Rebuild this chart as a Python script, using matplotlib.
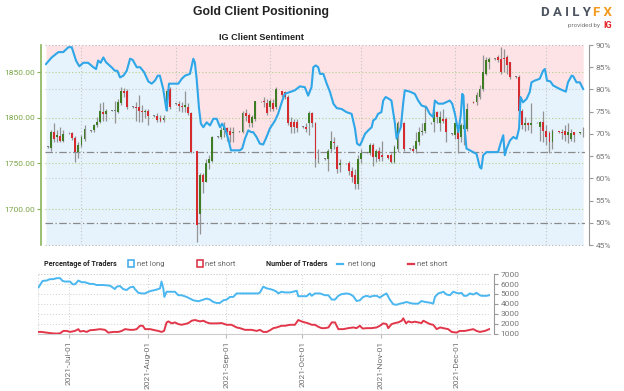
import matplotlib
matplotlib.use("Agg")
import matplotlib.pyplot as plt
import matplotlib.dates as mdates
from matplotlib.patches import Rectangle
from matplotlib.lines import Line2D
import numpy as np
import pandas as pd

# ---- data -------------------------------------------------------------
base = pd.Timestamp("2021-06-19")

# daily candles, Sunday..Friday sessions, 2021-06-20 .. 2021-12-14
opens = [1768, 1767, 1784, 1779, 1780, 1775,
         1783, 1783, 1778, 1763, 1770, 1777,
         1786, 1787, 1792, 1796, 1806, 1804,
         1808, 1808, 1806, 1816, 1830, 1829,
         1812, 1812, 1812, 1808, 1806, 1808,
         1802, 1802, 1800, 1798, 1810, 1832,
         1815, 1815, 1813, 1812, 1812, 1805,
         1764, 1695, 1737, 1730, 1750, 1753,
         1779, 1779, 1787, 1789, 1786, 1783,
         1785, 1785, 1805, 1803, 1794, 1799,
         1818, 1818, 1816, 1812, 1816, 1812,
         1829, 1828, 1823, 1795, 1795, 1795,
         1790, 1790, 1794, 1805, 1794, 1755,
         1755, 1755, 1766, 1774, 1768, 1748,
         1750, 1750, 1742, 1737, 1728, 1755,
         1762, 1761, 1770, 1757, 1764, 1759,
         1759, 1759, 1752, 1766, 1795, 1794,
         1766, 1766, 1766, 1774, 1785, 1786,
         1794, 1795, 1806, 1794, 1799, 1799,
         1782, 1781, 1786, 1779, 1788, 1788,
         1817, 1817, 1823, 1832, 1848, 1861,
         1865, 1867, 1865, 1866, 1867, 1861,
         1845, 1845, 1808, 1792, 1794, 1792,
         1795, 1790, 1795, 1786, 1783, 1774,
         1786, 1785, 1786, 1781, 1777, 1784,
         1783, 1784, 1786]
highs = [1769, 1787, 1794, 1787, 1790, 1787,
         1784, 1785, 1780, 1774, 1781, 1792,
         1787, 1793, 1801, 1816, 1817, 1810,
         1809, 1819, 1821, 1834, 1833, 1832,
         1813, 1817, 1825, 1814, 1810, 1810,
         1803, 1805, 1803, 1803, 1832, 1834,
         1816, 1819, 1817, 1830, 1816, 1806,
         1764, 1739, 1739, 1755, 1759, 1780,
         1780, 1790, 1795, 1790, 1790, 1790,
         1786, 1808, 1810, 1805, 1803, 1819,
         1819, 1823, 1821, 1821, 1821, 1834,
         1830, 1830, 1825, 1801, 1799, 1799,
         1791, 1794, 1808, 1806, 1796, 1766,
         1756, 1766, 1786, 1779, 1770, 1755,
         1751, 1753, 1746, 1744, 1759, 1766,
         1763, 1772, 1772, 1766, 1768, 1775,
         1759, 1761, 1770, 1797, 1799, 1796,
         1767, 1770, 1785, 1790, 1794, 1814,
         1795, 1810, 1808, 1808, 1810, 1801,
         1783, 1796, 1790, 1794, 1795, 1816,
         1819, 1828, 1836, 1869, 1867, 1867,
         1866, 1869, 1878, 1876, 1869, 1861,
         1846, 1847, 1810, 1801, 1796, 1816,
         1796, 1797, 1808, 1792, 1786, 1788,
         1786, 1788, 1792, 1794, 1788, 1785,
         1784, 1790, 1790]
lows = [1767, 1764, 1774, 1774, 1774, 1774,
        1782, 1776, 1752, 1756, 1768, 1775,
        1785, 1785, 1790, 1794, 1797, 1797,
        1807, 1794, 1805, 1814, 1823, 1810,
        1811, 1797, 1795, 1795, 1800, 1792,
        1801, 1796, 1795, 1795, 1808, 1810,
        1814, 1808, 1806, 1806, 1803, 1761,
        1664, 1673, 1718, 1730, 1744, 1752,
        1778, 1777, 1779, 1775, 1774, 1774,
        1784, 1783, 1797, 1790, 1790, 1797,
        1817, 1812, 1803, 1808, 1808, 1810,
        1823, 1821, 1792, 1783, 1783, 1785,
        1789, 1784, 1781, 1790, 1746, 1750,
        1754, 1742, 1763, 1766, 1739, 1741,
        1749, 1737, 1730, 1722, 1722, 1750,
        1761, 1759, 1747, 1752, 1753, 1753,
        1755, 1751, 1751, 1763, 1792, 1764,
        1765, 1763, 1762, 1770, 1781, 1783,
        1793, 1785, 1794, 1786, 1794, 1774,
        1781, 1777, 1761, 1774, 1770, 1786,
        1816, 1814, 1821, 1830, 1847, 1854,
        1864, 1861, 1848, 1850, 1848, 1843,
        1844, 1806, 1788, 1786, 1787, 1783,
        1794, 1775, 1773, 1770, 1762, 1766,
        1783, 1777, 1775, 1772, 1775, 1774,
        1782, 1779, 1766]
closes = [1768, 1785, 1777, 1781, 1775, 1782,
          1783, 1778, 1763, 1770, 1779, 1788,
          1786, 1792, 1796, 1808, 1804, 1808,
          1808, 1808, 1817, 1829, 1827, 1812,
          1812, 1811, 1808, 1806, 1808, 1802,
          1802, 1798, 1797, 1800, 1830, 1812,
          1815, 1813, 1812, 1814, 1805, 1763,
          1682, 1737, 1730, 1750, 1755, 1779,
          1779, 1787, 1790, 1785, 1781, 1785,
          1785, 1805, 1802, 1794, 1801, 1818,
          1818, 1817, 1805, 1818, 1810, 1832,
          1825, 1823, 1794, 1790, 1790, 1789,
          1790, 1788, 1805, 1794, 1755, 1755,
          1755, 1764, 1775, 1772, 1744, 1750,
          1750, 1742, 1735, 1728, 1755, 1761,
          1762, 1770, 1757, 1764, 1755, 1757,
          1756, 1752, 1768, 1794, 1796, 1766,
          1766, 1764, 1775, 1785, 1786, 1794,
          1794, 1806, 1801, 1801, 1797, 1785,
          1782, 1794, 1777, 1792, 1792, 1810,
          1816, 1825, 1832, 1850, 1863, 1865,
          1865, 1863, 1850, 1865, 1858, 1845,
          1845, 1808, 1792, 1794, 1792, 1794,
          1795, 1795, 1786, 1779, 1774, 1786,
          1784, 1783, 1781, 1785, 1783, 1781,
          1784, 1784, 1774]

# IG client sentiment, % of traders net long (days after 2021-06-19)
sent_day = [0.3, 2.2, 4.4, 6.0, 7.7, 8.8, 10.2, 11.3, 12.6, 14.2, 15.9, 16.8,
            17.5, 18.3, 19.2, 20.1, 21.9, 23.0, 23.8, 24.7, 25.8, 26.9, 28.0,
            28.8, 30.2, 31.3, 32.6, 34.0, 35.1, 36.2, 37.1, 37.8, 38.9, 40.0,
            40.8, 43.9, 45.0, 46.1, 47.7, 48.8, 49.3, 49.9, 50.7, 51.3, 52.1,
            53.2, 54.3, 55.4, 56.5, 57.6, 58.3, 59.2, 60.3, 61.2, 64.1, 64.9,
            65.8, 66.9, 67.8, 68.5, 69.6, 70.7, 71.8, 72.9, 74.0, 75.7, 76.7,
            77.9, 78.9, 80.6, 82.2, 83.9, 85.5, 86.6, 87.7, 88.3, 89.1, 89.9,
            90.5, 91.6, 92.7, 93.8, 94.9, 96.0, 97.6, 99.2, 100.9, 102.0,
            102.7, 103.6, 104.2, 105.3, 106.4, 107.5, 108.0, 108.8, 109.6,
            110.7, 111.3, 112.1, 112.9, 114.0, 115.1, 115.7, 116.2, 117.1,
            117.9, 118.4, 120.1, 121.7, 122.8, 123.9, 125.5, 126.6, 127.7,
            128.3, 129.4, 131.0, 133.2, 134.0, 134.9, 136.0, 136.8, 137.3,
            137.7, 138.2, 138.7, 139.8, 142.0, 143.1, 143.6, 144.2, 145.3,
            149.1, 149.9, 150.8, 151.3, 151.9, 153.0, 154.1, 155.2, 156.0,
            156.5, 157.3, 158.5, 159.5, 160.1, 161.2, 162.8, 163.9, 164.5,
            165.2, 166.3, 167.2, 169.4, 171.4, 172.1, 173.3, 173.8, 174.9,
            176.0, 177.1]
sent_long = [85.7, 87.2, 88.4, 88.4, 89.5, 89.5, 86.5, 85.2, 86.0, 86.0, 85.0,
             84.6, 86.5, 86.0, 87.2, 86.1, 85.0, 84.2, 84.2, 82.7, 83.1, 84.2,
             86.9, 86.7, 85.0, 85.0, 83.9, 81.8, 81.3, 82.0, 83.1, 83.1, 80.1,
             75.3, 81.3, 81.3, 82.4, 83.1, 83.5, 86.9, 86.1, 82.4, 75.6, 72.3,
             71.5, 72.6, 71.9, 73.4, 73.4, 71.5, 72.3, 71.2, 68.9, 66.3, 66.3,
             66.7, 68.9, 70.8, 70.4, 70.4, 69.3, 67.8, 67.6, 69.3, 71.2, 73.0,
             74.5, 77.1, 79.0, 79.4, 79.8, 80.7, 80.5, 78.6, 80.5, 85.0, 85.4,
             85.0, 83.5, 83.5, 81.3, 79.4, 76.8, 75.8, 75.6, 74.9, 74.5, 71.2,
             67.8, 67.4, 68.2, 70.0, 70.8, 71.5, 73.0, 73.4, 74.5, 74.9, 77.5,
             78.3, 78.0, 77.5, 72.6, 68.9, 70.0, 71.5, 77.1, 79.8, 79.5, 79.0,
             77.5, 76.4, 76.0, 74.5, 73.8, 77.5, 76.8, 76.8, 77.5, 76.8, 74.5,
             70.4, 74.1, 79.0, 78.6, 70.4, 66.7, 66.3, 65.5, 62.5, 62.2, 65.2,
             65.9, 65.9, 67.8, 69.7, 65.2, 66.7, 68.5, 69.3, 68.9, 71.2, 78.3,
             77.1, 77.9, 79.4, 81.6, 82.0, 82.4, 84.2, 84.6, 82.0, 81.8, 80.9,
             80.1, 79.5, 81.6, 83.1, 83.0, 81.6, 81.6, 80.1]

# number of traders
long_day = [0, 0.6, 1.6, 3.2, 4.5, 5.8, 7.2, 8.5, 9.5, 10.4, 12.4, 13.5, 14.4,
            15.7, 17.0, 18.3, 20.3, 21.6, 22.9, 24.2, 25.5, 28.2, 28.8, 30.1,
            30.8, 32.1, 33.4, 34.7, 36.1, 37.4, 38.0, 39.4, 40.7, 42.0, 43.3,
            44.6, 45.9, 47.2, 47.9, 48.5, 49.2, 49.6, 50.5, 51.8, 53.8, 55.1,
            56.4, 58.4, 59.7, 61.0, 63.0, 65.0, 66.3, 67.6, 68.9, 70.2, 71.5,
            72.9, 74.2, 75.5, 76.8, 78.1, 79.4, 82.1, 84.7, 86.7, 87.3, 88.6,
            90.0, 91.3, 92.6, 93.9, 94.5, 95.8, 97.2, 99.1, 100.4, 101.8,
            102.4, 103.7, 105.7, 107.0, 107.7, 109.0, 111.0, 112.9, 114.3,
            115.6, 116.9, 118.2, 119.5, 121.5, 122.8, 124.1, 125.4, 126.7,
            128.0, 129.4, 130.7, 132.0, 133.3, 134.6, 135.9, 137.2, 138.5,
            139.9, 141.2, 142.5, 143.8, 145.1, 146.4, 147.7, 149.7, 151.0,
            152.4, 154.3, 155.6, 156.3, 157.6, 158.9, 159.6, 160.9, 162.2,
            163.5, 164.8, 165.9, 166.8, 167.7, 168.8, 170.1, 171.4, 172.7,
            174.0, 174.7, 176.7, 177.7]
long_count = [5660, 5900, 6310, 6350, 6490, 6490, 6590, 6590, 6310, 6250, 6250,
              5970, 5970, 6350, 6180, 6180, 6010, 6010, 5900, 5900, 5900, 5830,
              5730, 5490, 5730, 5800, 5490, 5390, 5660, 5730, 5490, 5110, 5050,
              5050, 5220, 5320, 5390, 5490, 5560, 6250, 5560, 4700, 5220, 5220,
              5220, 4870, 4870, 4700, 4530, 4360, 4260, 4430, 4530, 4430, 4190,
              4090, 4090, 4360, 4430, 4700, 4700, 5050, 5050, 5050, 5050, 5050,
              5150, 5730, 5560, 5490, 5390, 5220, 5050, 5220, 5150, 5150, 5220,
              5320, 4770, 4770, 4770, 5050, 4810, 5050, 5050, 4870, 4870, 4430,
              4430, 4810, 4980, 5050, 4980, 4770, 4290, 4360, 4700, 4810, 4700,
              4810, 4810, 4630, 4870, 5050, 4430, 3950, 3910, 4020, 4090, 4190,
              4090, 4020, 4020, 4290, 4190, 4120, 4020, 4700, 5050, 5150, 5220,
              4940, 4870, 5220, 5110, 5050, 5110, 4810, 4810, 5050, 4940, 5110,
              4870, 4810, 4810, 4870]
short_day = [0, 1.2, 3.2, 5.2, 7.2, 8.5, 9.8, 11.1, 12.4, 14.4, 15.7, 16.4,
             17.7, 19.0, 20.3, 22.3, 24.2, 26.2, 27.5, 29.5, 31.5, 32.8, 34.1,
             36.1, 37.4, 38.7, 40.0, 41.1, 42.0, 44.0, 45.9, 47.2, 48.5, 49.5,
             50.5, 51.2, 52.5, 53.8, 55.1, 56.4, 57.7, 59.1, 60.4, 61.7, 63.7,
             65.0, 66.3, 67.6, 70.2, 72.2, 74.2, 76.1, 78.1, 79.4, 81.4, 84.0,
             86.0, 87.3, 88.6, 90.0, 91.3, 92.6, 93.9, 95.8, 97.2, 99.1, 101.1,
             102.4, 103.7, 105.0, 106.4, 107.7, 109.0, 110.3, 111.6, 112.9,
             114.3, 115.6, 116.9, 118.2, 120.2, 122.1, 124.1, 125.4, 126.7,
             127.8, 129.4, 131.3, 133.3, 134.6, 135.9, 137.2, 137.9, 139.2,
             140.5, 141.8, 143.2, 143.8, 144.9, 145.8, 147.1, 148.4, 149.7,
             151.0, 151.7, 153.0, 154.3, 155.6, 157.0, 158.3, 159.6, 161.5,
             162.9, 164.8, 166.1, 168.1, 170.1, 171.4, 172.7, 174.0, 176.0,
             177.7]
short_count = [1170, 1170, 1100, 1030, 1000, 1030, 1270, 1270, 1170, 1270, 1450,
               1210, 1270, 1170, 1340, 1380, 1450, 1380, 1100, 1170, 1170, 1270,
               1450, 1380, 1380, 1450, 1790, 1790, 1450, 1450, 1340, 1270, 1170,
               1270, 2130, 2230, 2030, 2130, 1960, 1890, 1960, 2060, 2300, 2370,
               2230, 2300, 2130, 2030, 2030, 2060, 1890, 1890, 1620, 1550, 1380,
               1380, 1270, 1380, 1170, 1170, 1340, 1550, 1620, 1790, 1790, 1890,
               1890, 2370, 2230, 2130, 2030, 1890, 1890, 1690, 1550, 1550, 1620,
               2130, 2130, 1450, 1450, 1550, 1620, 1550, 1790, 1510, 1550, 1550,
               1620, 1790, 2030, 1960, 1550, 1960, 2060, 2130, 2300, 2540, 2030,
               2230, 2130, 2200, 2130, 2060, 2300, 2130, 1960, 1890, 1450, 1620,
               1550, 1450, 1170, 1100, 1270, 1270, 1380, 1450, 1270, 1170, 1270,
               1450]

month_ticks = ["2021-07-01", "2021-08-01", "2021-09-01", "2021-10-01",
               "2021-11-01", "2021-12-01"]

# ---- figure -------------------------------------------------------------
plt.rcParams["font.family"] = ["Roboto", "DejaVu Sans"]
fig = plt.figure(figsize=(6.24, 3.91), dpi=100)

bar_dates = pd.bdate_range("2021-06-20", "2021-12-14", freq="C",
                           weekmask="Sun Mon Tue Wed Thu Fri")
bx = mdates.date2num(bar_dates[:len(closes)])
o = np.array(opens, float)
h = np.array(highs, float)
lo = np.array(lows, float)
c = np.array(closes, float)

sx = mdates.date2num(base + pd.to_timedelta(sent_day, unit="D"))
lx = mdates.date2num(base + pd.to_timedelta(long_day, unit="D"))
shx = mdates.date2num(base + pd.to_timedelta(short_day, unit="D"))
mt = mdates.date2num(pd.to_datetime(month_ticks))
x0 = mdates.date2num(base)
xr = (x0, x0 + 177.7)

# top panel: percent axis (fills), price twin above it, line on top
ax_pct = fig.add_axes([45/624, 1-245/391, 540/624, 200/391])
ax_pr = ax_pct.twinx()
ax_line = ax_pr.twinx()

ax_pct.set_xlim(*xr)
ax_pct.set_ylim(45, 90)
ax_pct.fill_between(sx, sent_long, 90, color="#fde3e6", lw=0, zorder=0)
ax_pct.fill_between(sx, 45, sent_long, color="#e6f3fc", lw=0, zorder=0)
for v in (60, 80):
    ax_pct.axhline(v, color="#c9c9c9", lw=0.8, ls=(0, (1, 2)), zorder=1)
for v in (50, 66):
    ax_pct.axhline(v, color="#8a8a8a", lw=0.9, ls=(0, (6, 2, 1, 2)), zorder=1)
for v in (45, 90):
    ax_pct.axhline(v, color="#b8b8b8", lw=0.8, ls=(0, (1, 2)), zorder=1,
                   clip_on=False)
for m in mt:
    ax_pct.axvline(m, color="#c4c4c4", lw=0.8, ls=(0, (1, 2)), zorder=1)

ax_pct.yaxis.tick_right()
ax_pct.yaxis.set_label_position("right")
ax_pct.set_yticks(range(45, 91, 5))
ax_pct.set_yticklabels([f"{v}%" for v in range(45, 91, 5)])
ax_pct.tick_params(axis="y", colors="#999999", labelcolor="#777777",
                   labelsize=6, length=3, width=0.8, pad=1.5)
ax_pct.set_xticks([])
for s in ("top", "bottom", "left"):
    ax_pct.spines[s].set_visible(False)
ax_pct.spines["right"].set_visible(True)
ax_pct.spines["right"].set_color("#999999")
ax_pct.spines["right"].set_position(("outward", 3))

ax_pr.set_xlim(*xr)
ax_pr.set_ylim(1660.6, 1879.9)
ax_pr.yaxis.tick_left()
ax_pr.set_yticks([1700, 1750, 1800, 1850])
ax_pr.set_yticklabels(["1700.00", "1750.00", "1800.00", "1850.00"])
ax_pr.tick_params(axis="y", colors="#86b55a", labelcolor="#7aa547",
                  labelsize=6, length=3, width=0.8, pad=1.5)
for s in ("top", "bottom", "right"):
    ax_pr.spines[s].set_visible(False)
ax_pr.spines["left"].set_visible(True)
ax_pr.spines["left"].set_color("#86b55a")
ax_pr.spines["left"].set_linewidth(1.2)
ax_pr.spines["left"].set_position(("outward", 3))
for v in (1700, 1750, 1800, 1850):
    ax_pr.axhline(v, color="#b3cf8a", lw=0.8, ls=(0, (1, 2)), zorder=1)

# candles
up = c > o + 0.6
dn = c < o - 0.6
body_col = np.where(up, "#3f7d25", np.where(dn, "#d52b2e", "#7d7d7d"))
ax_pr.vlines(bx, lo, h, color="#939393", lw=0.9, zorder=3)
body_lo = np.minimum(o, c)
body_h = np.maximum(np.abs(c - o), 0.9)
ax_pr.bar(bx, body_h, bottom=body_lo, width=0.62, color=body_col,
          lw=0, zorder=4)
ax_pr.patch.set_visible(False)

# sentiment line in percent units, topmost
ax_line.set_xlim(*xr)
ax_line.set_ylim(45, 90)
ax_line.plot(sx, sent_long, color="#2ea6e8", lw=1.5, zorder=5)
ax_line.set_axis_off()

# bottom panel: number of traders
ax_n = fig.add_axes([38/624, 1-334/391, 452/624, 60/391])
ax_n.set_xlim(x0 - 0.2, x0 + 178.0)
ax_n.set_ylim(960, 7010)
for v in range(1000, 7001, 1000):
    ax_n.axhline(v, color="#cfcfcf", lw=0.7, ls=(0, (1, 2)), zorder=0)
for m in mt:
    ax_n.axvline(m, color="#cfcfcf", lw=0.7, ls=(0, (1, 2)), zorder=0)
ax_n.axvline(x0 - 0.2, color="#cfcfcf", lw=0.7, ls=(0, (1, 2)), zorder=0)
ax_n.plot(lx, long_count, color="#4ab7f0", lw=1.4, zorder=3)
ax_n.plot(shx, short_count, color="#e2374a", lw=1.4, zorder=3)
ax_n.yaxis.tick_right()
ax_n.set_yticks(range(1000, 7001, 1000))
ax_n.tick_params(axis="y", colors="#999999", labelcolor="#777777",
                 labelsize=6, length=3, width=0.8, pad=1.5)
ax_n.set_xticks(mt)
ax_n.set_xticklabels([pd.Timestamp(t).strftime("%Y-%b-%d") for t in month_ticks],
                     rotation=90)
ax_n.tick_params(axis="x", colors="#bbbbbb", labelcolor="#6f6f6f",
                 labelsize=6, length=3, width=0.8, pad=2)
for s in ("top", "left"):
    ax_n.spines[s].set_visible(False)
ax_n.spines["bottom"].set_color("#cccccc")
ax_n.spines["right"].set_color("#999999")
ax_n.spines["right"].set_position(("outward", 3))
ax_n.axhline(7010, color="#cfcfcf", lw=0.7, ls=(0, (1, 2)), clip_on=False)

# titles and branding
fig.text(261/624, 1-12/391, "Gold Client Positioning", ha="center", va="center",
         fontsize=8.8, fontweight="bold", color="#222222",
         family=["Liberation Sans", "DejaVu Sans"])
fig.text(261/624, 1-38/391, "IG Client Sentiment", ha="center", va="center",
         fontsize=6.6, fontweight="bold", color="#222222",
         family=["Liberation Sans", "DejaVu Sans"])
fig.text(591/624, 1-12/391, "D A I L Y", ha="right", va="center", fontsize=9.5,
         fontweight="bold", color="#4d5561")
fig.text(593/624, 1-12/391, "F X", ha="left", va="center", fontsize=9.5,
         fontweight="bold", color="#f39a23")
fig.text(600/624, 1-26/391, "provided by", ha="right", va="center",
         fontsize=4.5, color="#777777")
fig.text(603/624, 1-26/391, "IG", ha="left", va="center", fontsize=6.5,
         fontweight="bold", color="#e2232a")

# legend row
ly = 1 - 264/391
fig.text(44/624, ly, "Percentage of Traders", ha="left", va="center",
         fontsize=5.2, fontweight="bold", color="#222222")
fig.add_artist(Rectangle((128/624, 1-267/391), 6/624, 7/391,
                         transform=fig.transFigure, fc="white",
                         ec="#3aa8e8", lw=1.1))
fig.text(137/624, ly, "net long", ha="left", va="center", fontsize=5.5,
         color="#666666")
fig.add_artist(Rectangle((197/624, 1-267/391), 6/624, 7/391,
                         transform=fig.transFigure, fc="white",
                         ec="#d92b3d", lw=1.1))
fig.text(205/624, ly, "net short", ha="left", va="center", fontsize=5.5,
         color="#666666")
fig.text(266/624, ly, "Number of Traders", ha="left", va="center",
         fontsize=5.2, fontweight="bold", color="#222222")
fig.add_artist(Line2D([337/624, 343/624], [ly, ly], transform=fig.transFigure,
                      color="#4ab7f0", lw=1.6))
fig.text(348/624, ly, "net long", ha="left", va="center", fontsize=5.5,
         color="#666666")
fig.add_artist(Line2D([408/624, 414/624], [ly, ly], transform=fig.transFigure,
                      color="#e2374a", lw=1.6))
fig.text(417/624, ly, "net short", ha="left", va="center", fontsize=5.5,
         color="#666666")

fig.savefig("out.png", dpi=100)
